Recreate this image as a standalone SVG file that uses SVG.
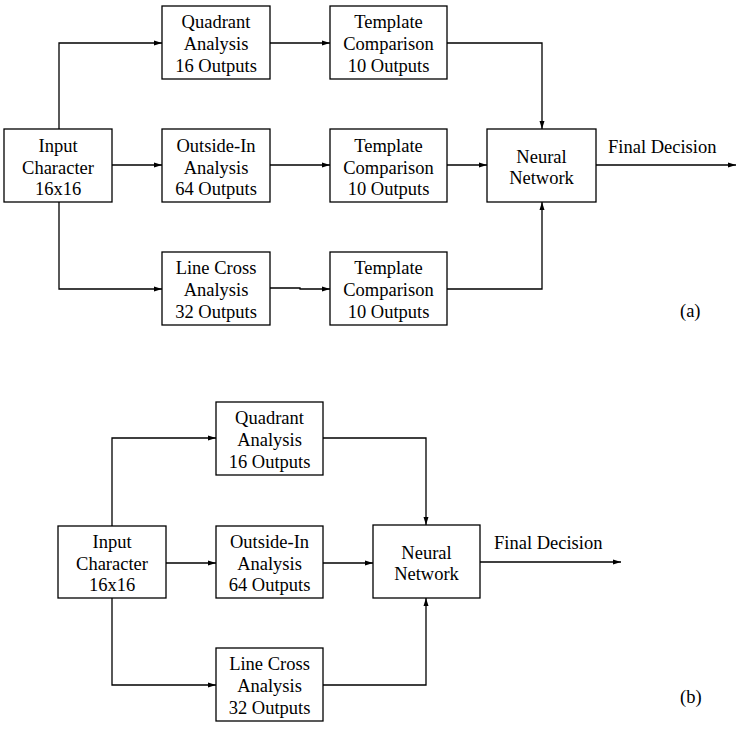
<svg xmlns="http://www.w3.org/2000/svg" width="754" height="748" viewBox="0 0 754 748">
<style>
rect.box{fill:#fff;stroke:#000;stroke-width:1.3}
text{font-family:'Liberation Serif','Times New Roman','DejaVu Serif',serif;font-size:18.5px;fill:#000}
.c{text-anchor:middle}
.ln{fill:none;stroke:#000;stroke-width:1.3}
</style>
<defs>
<marker id="ah" viewBox="0 0 8 6" refX="8" refY="3" markerWidth="8" markerHeight="6" markerUnits="userSpaceOnUse" orient="auto">
<path d="M0,0.5 L8,3 L0,5.5 Z" fill="#000"/>
</marker>
</defs>
<rect width="754" height="748" fill="#fff"/>

<!-- (a) -->
<g id="connectors-a">
<path class="ln" d="M59,129 V43 H162" marker-end="url(#ah)"/>
<path class="ln" d="M112,165 H162" marker-end="url(#ah)"/>
<path class="ln" d="M59,202 V289 H162" marker-end="url(#ah)"/>
<path class="ln" d="M270,43 H330" marker-end="url(#ah)"/>
<path class="ln" d="M270,165 H330" marker-end="url(#ah)"/>
<path class="ln" d="M270,288 H300 V289 H330" marker-end="url(#ah)"/>
<path class="ln" d="M447,43 H542 V129" marker-end="url(#ah)"/>
<path class="ln" d="M447,165 H487" marker-end="url(#ah)"/>
<path class="ln" d="M447,289 H542 V202" marker-end="url(#ah)"/>
<path class="ln" d="M596,165 H736" marker-end="url(#ah)"/>
</g>
<g id="a-input"><rect class="box" x="4" y="129" width="108" height="73"/>
<text class="c" x="58" y="152">Input</text><text class="c" x="58" y="174">Character</text><text class="c" x="58" y="195">16x16</text></g>
<g id="a-quadrant"><rect class="box" x="162" y="6" width="108" height="73"/>
<text class="c" x="216" y="28">Quadrant</text><text class="c" x="216" y="50">Analysis</text><text class="c" x="216" y="72">16 Outputs</text></g>
<g id="a-outside"><rect class="box" x="162" y="129" width="108" height="73"/>
<text class="c" x="216" y="152">Outside-In</text><text class="c" x="216" y="174">Analysis</text><text class="c" x="216" y="195">64 Outputs</text></g>
<g id="a-linecross"><rect class="box" x="162" y="252" width="108" height="73"/>
<text class="c" x="216" y="274">Line Cross</text><text class="c" x="216" y="296">Analysis</text><text class="c" x="216" y="318">32 Outputs</text></g>
<g id="a-template1"><rect class="box" x="330" y="6" width="117" height="73"/>
<text class="c" x="388.5" y="28">Template</text><text class="c" x="388.5" y="50">Comparison</text><text class="c" x="388.5" y="72">10 Outputs</text></g>
<g id="a-template2"><rect class="box" x="330" y="129" width="117" height="73"/>
<text class="c" x="388.5" y="152">Template</text><text class="c" x="388.5" y="174">Comparison</text><text class="c" x="388.5" y="195">10 Outputs</text></g>
<g id="a-template3"><rect class="box" x="330" y="252" width="117" height="73"/>
<text class="c" x="388.5" y="274">Template</text><text class="c" x="388.5" y="296">Comparison</text><text class="c" x="388.5" y="318">10 Outputs</text></g>
<g id="a-neural"><rect class="box" x="487" y="129" width="109" height="73"/>
<text class="c" x="541.5" y="163">Neural</text><text class="c" x="541.5" y="184">Network</text></g>
<text x="608" y="153">Final Decision</text>
<text x="680" y="317">(a)</text>

<!-- (b) -->
<g id="connectors-b">
<path class="ln" d="M112,526 V438 H216" marker-end="url(#ah)"/>
<path class="ln" d="M166,563 H216" marker-end="url(#ah)"/>
<path class="ln" d="M112,598 V685 H216" marker-end="url(#ah)"/>
<path class="ln" d="M323,438 H426 V525" marker-end="url(#ah)"/>
<path class="ln" d="M323,563 H373" marker-end="url(#ah)"/>
<path class="ln" d="M323,685 H426 V598" marker-end="url(#ah)"/>
<path class="ln" d="M480,562 H621" marker-end="url(#ah)"/>
</g>
<g id="b-input"><rect class="box" x="58" y="526" width="108" height="72"/>
<text class="c" x="112" y="548">Input</text><text class="c" x="112" y="570">Character</text><text class="c" x="112" y="591">16x16</text></g>
<g id="b-quadrant"><rect class="box" x="216" y="402" width="107" height="73"/>
<text class="c" x="269.5" y="424">Quadrant</text><text class="c" x="269.5" y="446">Analysis</text><text class="c" x="269.5" y="468">16 Outputs</text></g>
<g id="b-outside"><rect class="box" x="216" y="526" width="107" height="72"/>
<text class="c" x="269.5" y="548">Outside-In</text><text class="c" x="269.5" y="570">Analysis</text><text class="c" x="269.5" y="591">64 Outputs</text></g>
<g id="b-linecross"><rect class="box" x="216" y="648" width="107" height="73"/>
<text class="c" x="269.5" y="670">Line Cross</text><text class="c" x="269.5" y="692">Analysis</text><text class="c" x="269.5" y="714">32 Outputs</text></g>
<g id="b-neural"><rect class="box" x="373" y="525" width="107" height="73"/>
<text class="c" x="426.5" y="559">Neural</text><text class="c" x="426.5" y="580">Network</text></g>
<text x="494" y="549">Final Decision</text>
<text x="680" y="703">(b)</text>
</svg>
